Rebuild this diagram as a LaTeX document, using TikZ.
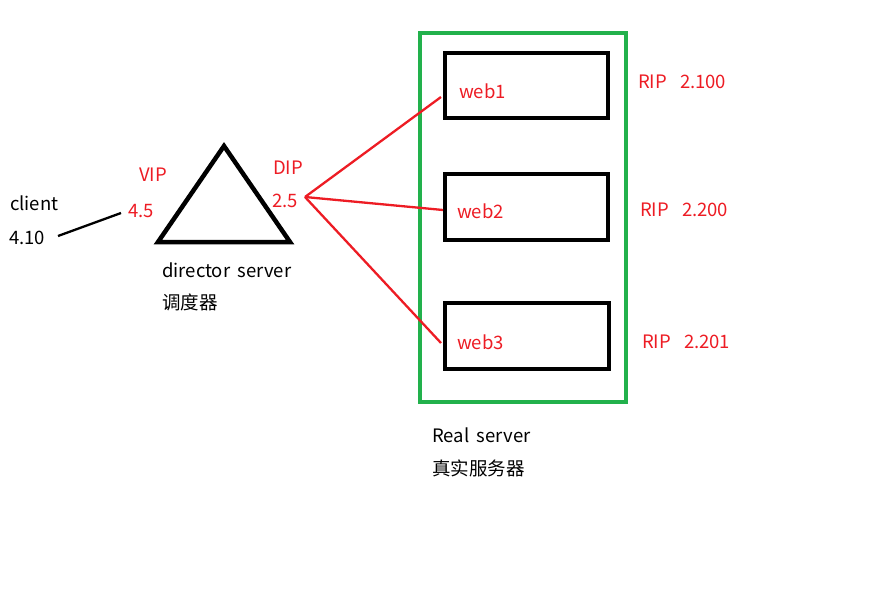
\documentclass[tikz,border=0pt]{standalone}
\usepackage{fontspec}
\setmainfont[WordSpace=1.8]{Noto Sans CJK SC}
\definecolor{pred}{HTML}{ED1C24}
\definecolor{pgreen}{HTML}{22B14C}
\begin{document}
\begin{tikzpicture}[x=1pt,y=-1pt,
  lbl/.style={inner sep=0pt,font=\fontsize{18.5}{21}\selectfont},
  rlbl/.style={lbl,text=pred},
  box/.style={draw=black,line width=4pt},
  redline/.style={draw=pred,line width=2.3pt}]
\useasboundingbox (0,0) rectangle (890,591);
% triangle
\draw[line width=4.5pt,line join=miter] (224,146) -- (290,242) -- (158,242) -- cycle;
\coordinate (tipL) at (121,213);
\coordinate (cliEnd) at (58,236);
\draw[line width=2.3pt] (cliEnd) -- (tipL);
% labels left
\node[lbl,anchor=west] (client) at (10,203) {client};
\node[lbl,anchor=west] (cip) at (9,238) {4.10};
\node[rlbl] (vip) at (153,175) {VIP};
\node[rlbl] (vipn) at (141,211) {4.5};
\node[rlbl] (dip) at (288,168) {DIP};
\node[rlbl] (dipn) at (285,201) {2.5};
\node[lbl,anchor=west] (dir) at (162,270) {director server};
\node[lbl,anchor=west] (dircn) at (162,302) {调度器};
% green container
\draw[draw=pgreen,line width=4pt] (420,33) rectangle (626,402);
% web boxes
\draw[box] (445,53) rectangle (608,118);
\draw[box] (445,174) rectangle (608,240);
\draw[box] (445,303) rectangle (609,369);
\node[rlbl,anchor=west] (w1) at (459,91) {web1};
\node[rlbl,anchor=west] (w2) at (457,211) {web2};
\node[rlbl,anchor=west] (w3) at (457,342) {web3};
\coordinate (d) at (305,197);
\coordinate (e1) at (441,97);
\coordinate (e2) at (443,210);
\coordinate (e3) at (441,343);
\draw[redline] (d) -- (e1);
\draw[redline] (d) -- (e2);
\draw[redline] (d) -- (e3);
\node[rlbl,anchor=west] (r1) at (638,82) {RIP\hspace{0.7em}2.100};
\node[rlbl,anchor=west] (r2) at (640,210) {RIP\hspace{0.7em}2.200};
\node[rlbl,anchor=west] (r3) at (642,342) {RIP\hspace{0.7em}2.201};
\node[lbl,anchor=west] (rs) at (432,435) {Real server};
\node[lbl,anchor=west] (rscn) at (432,468) {真实服务器};
\end{tikzpicture}
\end{document}
